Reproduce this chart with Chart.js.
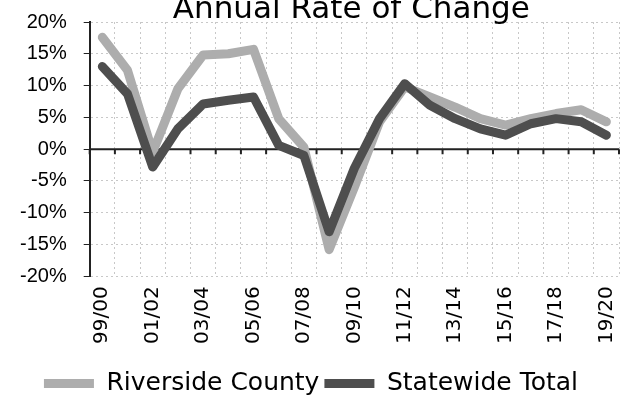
<!DOCTYPE html>
<html>
<head>
<meta charset="utf-8">
<script src="https://cdn.jsdelivr.net/npm/chart.js@4.4.0/dist/chart.umd.min.js"></script>
<style>
  html, body { margin: 0; padding: 0; background: #fff; }
  #wrap { width: 626px; height: 406px; }
</style>
</head>
<body>
<div id="wrap"><canvas id="rateChart" width="626" height="406"></canvas></div>
<script>
const years = ["99/00", "00/01", "01/02", "02/03", "03/04", "04/05", "05/06", "06/07",
  "07/08", "08/09", "09/10", "10/11", "11/12", "12/13", "13/14", "14/15", "15/16",
  "16/17", "17/18", "18/19", "19/20"];
const riverside = [17.6, 12.4, -0.5, 9.5, 14.8, 15.0, 15.7, 4.8, 0.3, -15.8, -6.0,
  4.3, 9.8, 8.2, 6.6, 4.8, 3.8, 4.8, 5.6, 6.2, 4.3];
const statewide = [13.0, 8.7, -2.8, 3.2, 7.1, 7.7, 8.2, 0.6, -1.0, -13.0, -3.0,
  4.8, 10.3, 6.9, 4.8, 3.2, 2.2, 4.0, 4.8, 4.3, 2.2];
const seriesNames = ["Riverside County", "Statewide Total"];
const chartTitle = "Annual Rate of Change";
const yMin = -20, yMax = 20, yStep = 5;

const FONT = "'DejaVu Sans', sans-serif";
const NUMFONT = "'Liberation Sans', Arial, sans-serif";

// solid zero line with little tick marks, like the axis crossing at 0
const zeroLine = {
  id: "zeroLine",
  beforeDatasetsDraw(chart) {
    const { ctx, chartArea, scales } = chart;
    const x = scales.x, y = scales.y;
    const y0 = y.getPixelForValue(0);
    const half = (x.getPixelForValue(1) - x.getPixelForValue(0)) / 2;
    ctx.save();
    ctx.strokeStyle = "#222";
    ctx.lineWidth = 2;
    ctx.beginPath();
    ctx.moveTo(chartArea.left, y0);
    ctx.lineTo(chartArea.right, y0);
    for (let i = 0; i <= years.length; i++) {
      const px = i < years.length ? x.getPixelForValue(i) - half : x.getPixelForValue(i - 1) + half;
      ctx.moveTo(px, y0);
      ctx.lineTo(px, y0 + 5);
    }
    ctx.stroke();
    ctx.restore();
  }
};

// title sits over the plot, partly cut at the top edge
const topTitle = {
  id: "topTitle",
  afterDraw(chart) {
    const { ctx, chartArea } = chart;
    ctx.save();
    ctx.fillStyle = "#000";
    ctx.font = "31px " + FONT;
    ctx.textAlign = "center";
    ctx.textBaseline = "alphabetic";
    ctx.fillText(chartTitle, (chartArea.left + chartArea.right) / 2 - 3, 18);
    ctx.restore();
  }
};

const ctx = document.getElementById("rateChart").getContext("2d");
const chart = new Chart(ctx, {
  type: "line",
  data: {
    labels: years,
    datasets: [
      {
        label: seriesNames[0],
        data: riverside,
        borderColor: "#adadad",
        backgroundColor: "#adadad",
        borderWidth: 9,
        pointRadius: 0,
        tension: 0,
        borderCapStyle: "round",
        borderJoinStyle: "round",
        order: 1
      },
      {
        label: seriesNames[1],
        data: statewide,
        borderColor: "#4e4e4e",
        backgroundColor: "#4e4e4e",
        borderWidth: 9,
        pointRadius: 0,
        tension: 0,
        borderCapStyle: "round",
        borderJoinStyle: "round",
        order: 0
      }
    ]
  },
  options: {
    responsive: false,
    animation: false,
    layout: { padding: { left: 3, right: 7, top: 22, bottom: 0 } },
    plugins: {
      title: { display: false },
      legend: {
        position: "bottom",
        labels: {
          color: "#000",
          font: { family: FONT, size: 25 },
          boxWidth: 50,
          boxHeight: 9,
          padding: 5,
          sort: (a, b) => a.datasetIndex - b.datasetIndex,
          generateLabels: (c) =>
            Chart.defaults.plugins.legend.labels.generateLabels(c).map((l) => ({
              ...l,
              fillStyle: l.strokeStyle,
              lineWidth: 0
            }))
        }
      },
      tooltip: { enabled: false }
    },
    scales: {
      x: {
        offset: true,
        grid: { offset: true, color: "#c8c8c8", drawTicks: false },
        border: { display: false, dash: [2, 3] },
        ticks: {
          autoSkip: false,
          maxRotation: 90,
          minRotation: 90,
          padding: 10,
          color: "#000",
          font: { family: FONT, size: 20 },
          callback: function (v, i) {
            return i % 2 === 0 ? this.getLabelForValue(v) : "";
          }
        },
        afterFit: (s) => {
          s.height += 12;
          s.paddingLeft = 0;
          s.paddingRight = 0;
        }
      },
      y: {
        min: yMin,
        max: yMax,
        ticks: {
          stepSize: yStep,
          padding: 17,
          color: "#000",
          font: { family: NUMFONT, size: 20 },
          callback: (v) => v + "%"
        },
        grid: { color: "#c8c8c8", tickLength: 6, tickColor: "#222" },
        border: { display: true, color: "#222", width: 2, dash: [2, 3] },
        afterFit: (s) => {
          s.paddingTop = 0;
          s.paddingBottom = 0;
        }
      }
    }
  },
  plugins: [zeroLine, topTitle]
});
</script>
</body>
</html>
